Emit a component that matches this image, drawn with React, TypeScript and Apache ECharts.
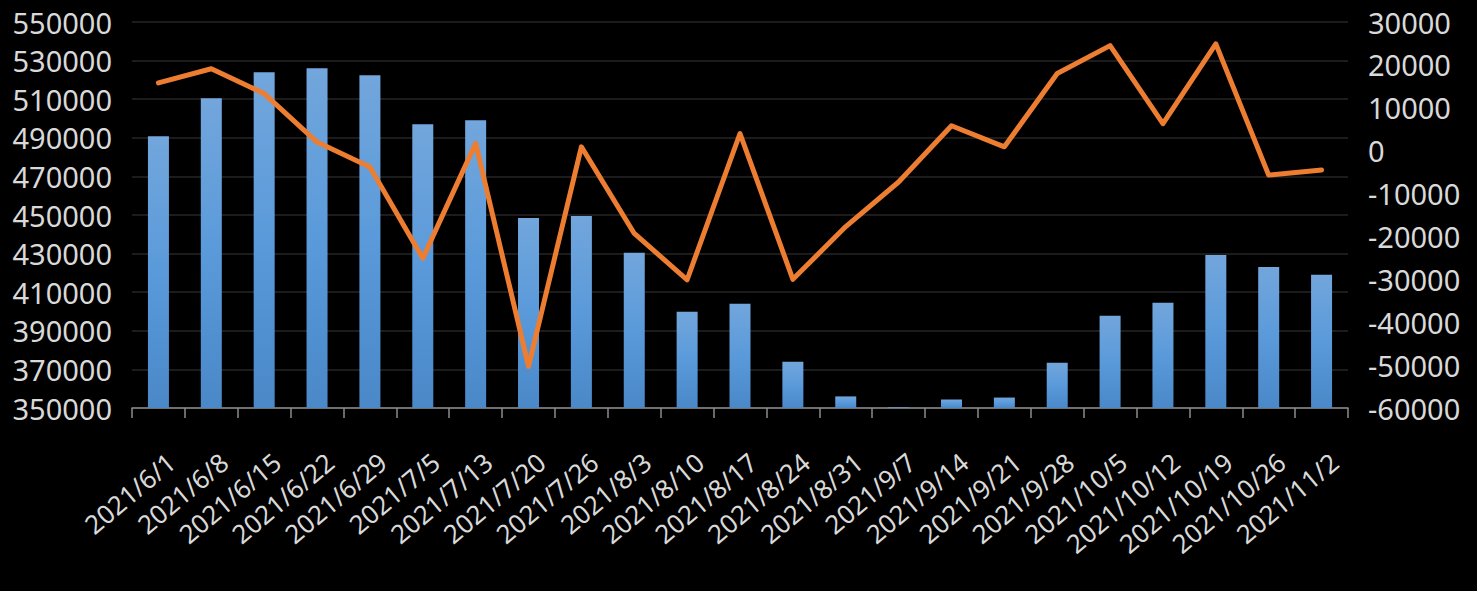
import React, { useEffect, useRef } from "react";
import * as echarts from "echarts";

const categories = [
  "2021/6/1", "2021/6/8", "2021/6/15", "2021/6/22", "2021/6/29", "2021/7/5",
  "2021/7/13", "2021/7/20", "2021/7/26", "2021/8/3", "2021/8/10", "2021/8/17",
  "2021/8/24", "2021/8/31", "2021/9/7", "2021/9/14", "2021/9/21", "2021/9/28",
  "2021/10/5", "2021/10/12", "2021/10/19", "2021/10/26", "2021/11/2",
];

const barValues = [
  490800, 510500, 523900, 526000, 522400, 497000, 499100, 448500, 449500,
  430400, 399900, 404000, 374000, 356000, 350300, 354400, 355400, 373500,
  397800, 404500, 429300, 423100, 419000,
];

const lineValues = [
  15800, 19100, 13300, 2000, -3800, -25100, 1700, -50300, 900, -19300, -30100,
  4000, -30000, -17700, -7300, 5800, 900, 18000, 24500, 6300, 24900, -5700,
  -4500,
];

const leftMin = 350000;
const leftMax = 550000;
const leftInterval = 20000;
const rightMin = -60000;
const rightMax = 30000;
const rightInterval = 10000;

const FONT = "Noto Sans";
const LABEL_COLOR = "#d9d9d9";

export default function App() {
  const ref = useRef<HTMLDivElement>(null);

  useEffect(() => {
    document.body.style.margin = "0";
    document.body.style.background = "#000";
    if (!ref.current) return;
    const chart = echarts.init(ref.current, null, { renderer: "svg" });
    chart.setOption({
      animation: false,
      backgroundColor: "#000000",
      grid: { left: 132, right: 129, top: 22, bottom: 183, containLabel: false },
      xAxis: {
        type: "category",
        data: categories,
        axisLine: { show: true, onZero: false, lineStyle: { color: "#8c8c8c", width: 1.5 } },
        axisTick: {
          show: true,
          alignWithLabel: false,
          length: 10,
          lineStyle: { color: "#8c8c8c", width: 1.5 },
        },
        axisLabel: {
          interval: 0,
          rotate: 40,
          margin: 35,
          color: LABEL_COLOR,
          fontFamily: FONT,
          fontSize: 26,
          verticalAlign: "top",
          padding: [7, 0, 0, 0],
        },
        splitLine: { show: false },
      },
      yAxis: [
        {
          type: "value",
          min: leftMin,
          max: leftMax,
          interval: leftInterval,
          position: "left",
          axisLine: { show: false },
          axisTick: { show: false },
          axisLabel: {
            color: LABEL_COLOR,
            fontFamily: FONT,
            fontSize: 29,
            margin: 20,
            formatter: (v: number) => String(v),
          },
          splitLine: { show: true, lineStyle: { color: "#262626", width: 1.5 } },
        },
        {
          type: "value",
          min: rightMin,
          max: rightMax,
          interval: rightInterval,
          position: "right",
          axisLine: { show: false },
          axisTick: { show: false },
          axisLabel: {
            color: LABEL_COLOR,
            fontFamily: FONT,
            fontSize: 29,
            margin: 20,
            formatter: (v: number) => String(v),
          },
          splitLine: { show: false },
        },
      ],
      series: [
        {
          type: "bar",
          yAxisIndex: 0,
          data: barValues,
          barWidth: 21,
          itemStyle: {
            color: new echarts.graphic.LinearGradient(0, 0, 0, 1, [
              { offset: 0, color: "#72a6dc" },
              { offset: 0.5, color: "#5a9ada" },
              { offset: 1, color: "#4a88c8" },
            ]),
          },
        },
        {
          type: "line",
          yAxisIndex: 1,
          data: lineValues,
          showSymbol: false,
          symbol: "none",
          lineStyle: { color: "#ed7d31", width: 5, cap: "round", join: "round" },
          itemStyle: { color: "#ed7d31" },
          z: 3,
        },
      ],
    });
    return () => chart.dispose();
  }, []);

  return <div ref={ref} style={{ width: 1477, height: 591 }} />;
}
